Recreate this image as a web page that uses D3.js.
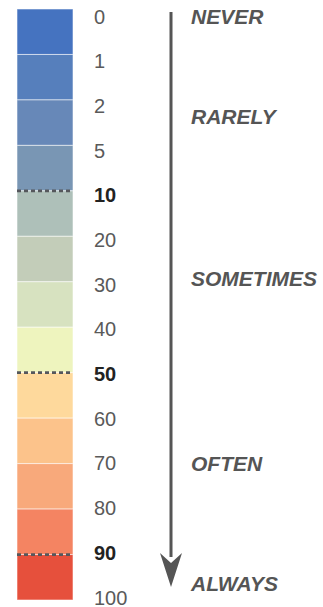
<!DOCTYPE html>
<html>
<head>
<meta charset="utf-8">
<script src="https://cdn.jsdelivr.net/npm/d3@7"></script>
<style>
  body { margin: 0; background: #fff; }
  text { font-family: "Liberation Sans", Arial, sans-serif; }
</style>
</head>
<body>
<div id="chart"></div>
<script>
// Scale stops (percent) and the colour of each band between them
var stops = [0, 1, 2, 5, 10, 20, 30, 40, 50, 60, 70, 80, 90, 100];
var bandColors = ['#4573c0', '#567fbc', '#6788b8', '#7996b4', '#aec0b9', '#c3cdb9',
                  '#d7e2c0', '#eef4be', '#fed99c', '#fcc38b', '#f8a97b', '#f48462', '#e6503c'];
var majorStops = [10, 50, 90];

// Frequency words and where they sit along the stop index
var freqLabels = ['NEVER', 'RARELY', 'SOMETIMES', 'OFTEN', 'ALWAYS'];
var freqIndex = [0, 2.25, 5.87, 10, 12.68];

var width = 323, height = 607;

var svg = d3.select("#chart").append("svg")
  .attr("width", width)
  .attr("height", height);

// band scale: stop index -> y of boundary
var bandY = d3.scaleLinear()
  .domain([0, stops.length - 1])
  .range([9, 600]);

// label scale: stop index -> y of label centre
var labelY = d3.scaleLinear()
  .domain([0, stops.length - 1])
  .range([16.5, 597.5]);

var barX = 17, barW = 56;

// colour bands
svg.selectAll(".band")
  .data(bandColors)
  .enter()
  .append("rect")
  .attr("class", "band")
  .attr("x", barX)
  .attr("y", function(d, i){ return bandY(i); })
  .attr("width", barW)
  .attr("height", function(d, i){ return bandY(i + 1) - bandY(i); })
  .style("fill", function(d){ return d; })
  .style("stroke", "#fff")
  .style("stroke-opacity", 0.55)
  .style("stroke-width", 1);

// dashed lines at the major stops
svg.selectAll(".major")
  .data(majorStops)
  .enter()
  .append("line")
  .attr("class", "major")
  .attr("x1", barX)
  .attr("x2", barX + barW)
  .attr("y1", function(d){ return bandY(stops.indexOf(d)); })
  .attr("y2", function(d){ return bandY(stops.indexOf(d)); })
  .style("stroke", "#55575c")
  .style("stroke-width", 2.8)
  .style("stroke-dasharray", "4,3");

// stop labels
svg.selectAll(".stop")
  .data(stops)
  .enter()
  .append("text")
  .attr("class", "stop")
  .attr("x", 94)
  .attr("y", function(d, i){ return labelY(i); })
  .attr("dy", "0.35em")
  .style("font-size", "20px")
  .style("font-weight", function(d){ return majorStops.includes(d) ? "bold" : "normal"; })
  .style("fill", function(d){ return majorStops.includes(d) ? "#222" : "#5a5a5a"; })
  .text(function(d){ return d; });

// arrow
var defs = svg.append("defs");
defs.append("marker")
  .attr("id", "arrowhead")
  .attr("viewBox", "0 0 22 34")
  .attr("refX", 11)
  .attr("refY", 4)
  .attr("markerWidth", 22)
  .attr("markerHeight", 34)
  .attr("markerUnits", "userSpaceOnUse")
  .attr("orient", "0")
  .append("path")
  .attr("d", "M0,0 L11,10 L22,0 L11,34 Z")
  .style("fill", "#555");

svg.append("line")
  .attr("x1", 171)
  .attr("x2", 171)
  .attr("y1", 12)
  .attr("y2", 557)
  .style("stroke", "#555")
  .style("stroke-width", 3)
  .attr("marker-end", "url(#arrowhead)");

// frequency words
svg.selectAll(".freq")
  .data(freqLabels)
  .enter()
  .append("text")
  .attr("class", "freq")
  .attr("x", 191)
  .attr("y", function(d, i){ return labelY(freqIndex[i]); })
  .attr("dy", "0.35em")
  .style("font-size", "21px")
  .style("font-weight", "bold")
  .style("font-style", "italic")
  .style("fill", "#555")
  .text(function(d){ return d; });
</script>
</body>
</html>
